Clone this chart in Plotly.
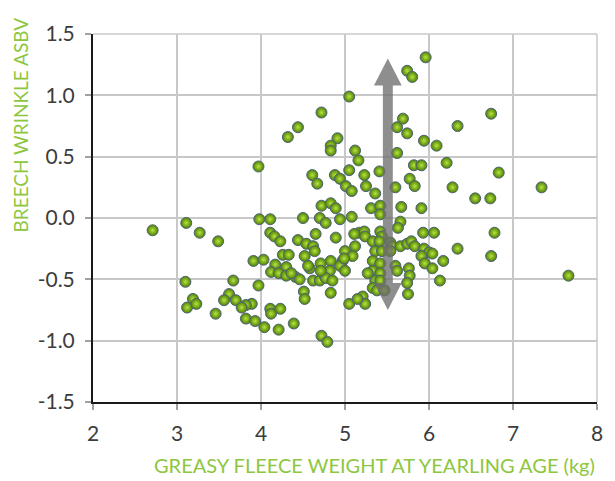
import plotly.graph_objects as go

# ---- data ----
fleece_kg = [
    5.96, 5.74, 5.80, 5.05, 4.72, 6.74, 5.69, 4.44, 6.34, 5.62,
    5.74, 4.32, 4.91, 5.94, 6.09, 4.83, 4.83, 5.12, 5.62, 5.16,
    6.21, 5.82, 5.91, 3.97, 5.05, 5.41, 6.83, 4.61, 4.88, 5.23,
    4.94, 5.77, 4.67, 5.01, 5.08, 5.25, 5.83, 5.60, 6.28, 7.34,
    5.36, 6.55, 6.73,
    4.72, 4.83, 4.89, 5.31, 5.42, 5.42, 5.67, 5.91, 3.98, 4.11,
    4.50, 4.70, 4.77, 4.94, 5.08, 5.66, 5.63, 2.71, 3.11, 3.27,
    3.49, 4.11, 4.16, 4.23, 4.44, 4.65, 4.89, 4.54, 4.62, 4.64,
    4.52, 4.26, 4.33, 3.91, 4.03, 4.17, 4.30, 5.17, 5.23, 5.24,
    5.11, 5.42, 5.44, 5.93, 6.06, 6.78, 5.33, 5.41, 5.54, 5.56,
    5.36, 5.44, 5.54, 5.00, 5.12, 5.09, 4.97, 4.83, 5.66, 5.74,
    5.79, 5.83, 5.94, 6.00, 5.91, 6.04, 6.34, 6.74, 6.17, 4.71,
    4.12, 4.21, 4.30, 4.41, 4.46, 4.58, 4.62, 4.70, 4.76, 4.82,
    4.94, 5.00, 4.77, 4.85, 5.33, 5.42, 5.33, 5.42, 5.36, 5.42,
    5.60, 5.62, 5.95, 6.04, 5.76, 5.77, 5.74, 6.13, 3.10, 3.67,
    3.97, 4.51, 4.52, 4.83, 3.19, 3.12, 3.23, 3.62, 3.56, 3.70,
    3.89, 3.82, 3.77, 4.11, 4.12, 4.23, 3.46, 3.82, 3.93, 4.04,
    4.21, 4.39, 4.72, 4.79, 5.33, 5.38, 5.47, 5.75, 5.21, 5.24,
    5.05, 7.66, 4.36, 4.56, 4.71, 4.99, 5.15, 5.27,
]
breech_asbv = [
    1.31, 1.20, 1.15, 0.99, 0.86, 0.85, 0.81, 0.74, 0.75, 0.74,
    0.69, 0.66, 0.65, 0.63, 0.59, 0.59, 0.55, 0.55, 0.53, 0.47,
    0.45, 0.43, 0.43, 0.42, 0.39, 0.38, 0.37, 0.35, 0.35, 0.35,
    0.32, 0.32, 0.28, 0.26, 0.22, 0.26, 0.26, 0.25, 0.25, 0.25,
    0.20, 0.16, 0.16,
    0.10, 0.12, 0.08, 0.08, 0.10, 0.03, 0.09, 0.08, -0.01, -0.01,
    0.00, 0.00, -0.04, -0.01, 0.01, -0.03, -0.08, -0.10, -0.04, -0.12,
    -0.19, -0.12, -0.15, -0.19, -0.18, -0.13, -0.16, -0.21, -0.23, -0.27,
    -0.31, -0.30, -0.30, -0.35, -0.34, -0.38, -0.40, -0.12, -0.11, -0.15,
    -0.13, -0.11, -0.15, -0.12, -0.12, -0.12, -0.19, -0.19, -0.20, -0.23,
    -0.27, -0.27, -0.27, -0.27, -0.23, -0.31, -0.35, -0.35, -0.23, -0.21,
    -0.19, -0.23, -0.25, -0.28, -0.31, -0.29, -0.25, -0.31, -0.35, -0.37,
    -0.44, -0.45, -0.47, -0.48, -0.50, -0.41, -0.51, -0.51, -0.47, -0.43,
    -0.39, -0.43, -0.49, -0.51, -0.35, -0.37, -0.43, -0.45, -0.51, -0.51,
    -0.39, -0.43, -0.37, -0.41, -0.41, -0.47, -0.53, -0.51, -0.52, -0.51,
    -0.55, -0.60, -0.66, -0.61, -0.66, -0.73, -0.70, -0.62, -0.67, -0.67,
    -0.70, -0.71, -0.73, -0.74, -0.78, -0.74, -0.78, -0.82, -0.84, -0.89,
    -0.91, -0.86, -0.96, -1.01, -0.57, -0.59, -0.59, -0.62, -0.64, -0.70,
    -0.70, -0.47, -0.45, -0.39, -0.43, -0.33, -0.66, -0.45,
]

x_ticks = [2, 3, 4, 5, 6, 7, 8]
x_tick_labels = ["2", "3", "4", "5", "6", "7", "8"]
y_ticks = [-1.5, -1.0, -0.5, 0.0, 0.5, 1.0, 1.5]
y_tick_labels = ["-1.5", "-1.0", "-0.5", "0.0", "0.5", "1.0", "1.5"]

x_title = "GREASY FLEECE WEIGHT AT YEARLING AGE (kg)"
y_title = "BREECH WRINKLE ASBV"

# double-headed arrow (data units)
arrow_x = 5.51
arrow_top = 1.30
arrow_bottom = -0.75
arrow_head_len = 0.22
arrow_head_half = 0.165
arrow_shaft_half = 0.059

GREEN = "#8dc63f"
GRID = "#c8c8c8"

fig = go.Figure()
fig.add_trace(go.Scatter(
    x=fleece_kg, y=breech_asbv, mode="markers",
    marker=dict(
        size=11,
        color="#4b7f06",
        gradient=dict(type="radial", color="#b9e43e"),
        line=dict(color="#4f6276", width=1),
    ),
    showlegend=False,
))

# arrow polygon
top_base = arrow_top - arrow_head_len
bot_base = arrow_bottom + arrow_head_len
pts = [
    (arrow_x - arrow_head_half, top_base),
    (arrow_x, arrow_top),
    (arrow_x + arrow_head_half, top_base),
    (arrow_x + arrow_shaft_half, top_base),
    (arrow_x + arrow_shaft_half, bot_base),
    (arrow_x + arrow_head_half, bot_base),
    (arrow_x, arrow_bottom),
    (arrow_x - arrow_head_half, bot_base),
    (arrow_x - arrow_shaft_half, bot_base),
    (arrow_x - arrow_shaft_half, top_base),
]
path = "M " + " L ".join(f"{px},{py}" for px, py in pts) + " Z"
fig.add_shape(type="path", path=path, xref="x", yref="y",
              fillcolor="#6e6e6e", opacity=0.78, line=dict(width=0),
              layer="above")

# grey top/right frame
fig.add_shape(type="line", xref="paper", yref="paper", x0=0, x1=1, y0=1, y1=1,
              line=dict(color=GRID, width=1.5), layer="below")
fig.add_shape(type="line", xref="paper", yref="paper", x0=1, x1=1, y0=0, y1=1,
              line=dict(color=GRID, width=1.5), layer="below")

tick_font = dict(family="Lato, 'Open Sans', sans-serif", size=21, color="#3c3c3c")

fig.update_xaxes(
    range=[2, 8], tickvals=x_ticks, ticktext=x_tick_labels,
    showgrid=True, gridcolor=GRID, gridwidth=1.5, zeroline=False,
    showline=True, linecolor="#1a1a1a", linewidth=2,
    ticks="outside", ticklen=6, tickcolor="#a0a0a0", tickwidth=1.5,
    tickfont=tick_font, ticklabelstandoff=6,
)
fig.update_yaxes(
    range=[-1.5, 1.5], tickvals=y_ticks, ticktext=y_tick_labels,
    showgrid=True, gridcolor=GRID, gridwidth=1.5, zeroline=False,
    showline=True, linecolor="#1a1a1a", linewidth=2,
    ticks="outside", ticklen=6, tickcolor="#a0a0a0", tickwidth=1.5,
    tickfont=tick_font, ticklabelstandoff=6,
)

fig.add_annotation(text=x_title, xref="paper", yref="paper",
                   x=1.0, y=-0.17, xanchor="right", yanchor="middle",
                   showarrow=False,
                   font=dict(family="Lato, 'Open Sans', sans-serif", size=20, color=GREEN))
fig.add_annotation(text=y_title, xref="paper", yref="paper",
                   x=-0.144, y=1.05, xanchor="center", yanchor="top",
                   textangle=-90, showarrow=False,
                   font=dict(family="Lato, 'Open Sans', sans-serif", size=19, color=GREEN))

# page body has an 8px margin, so the figure is sized to fit the 615x481 window
fig.update_layout(
    width=607, height=473,
    margin=dict(l=85, r=13, t=17, b=79),
    plot_bgcolor="white", paper_bgcolor="white",
    showlegend=False,
)

fig.write_html("out.html")
